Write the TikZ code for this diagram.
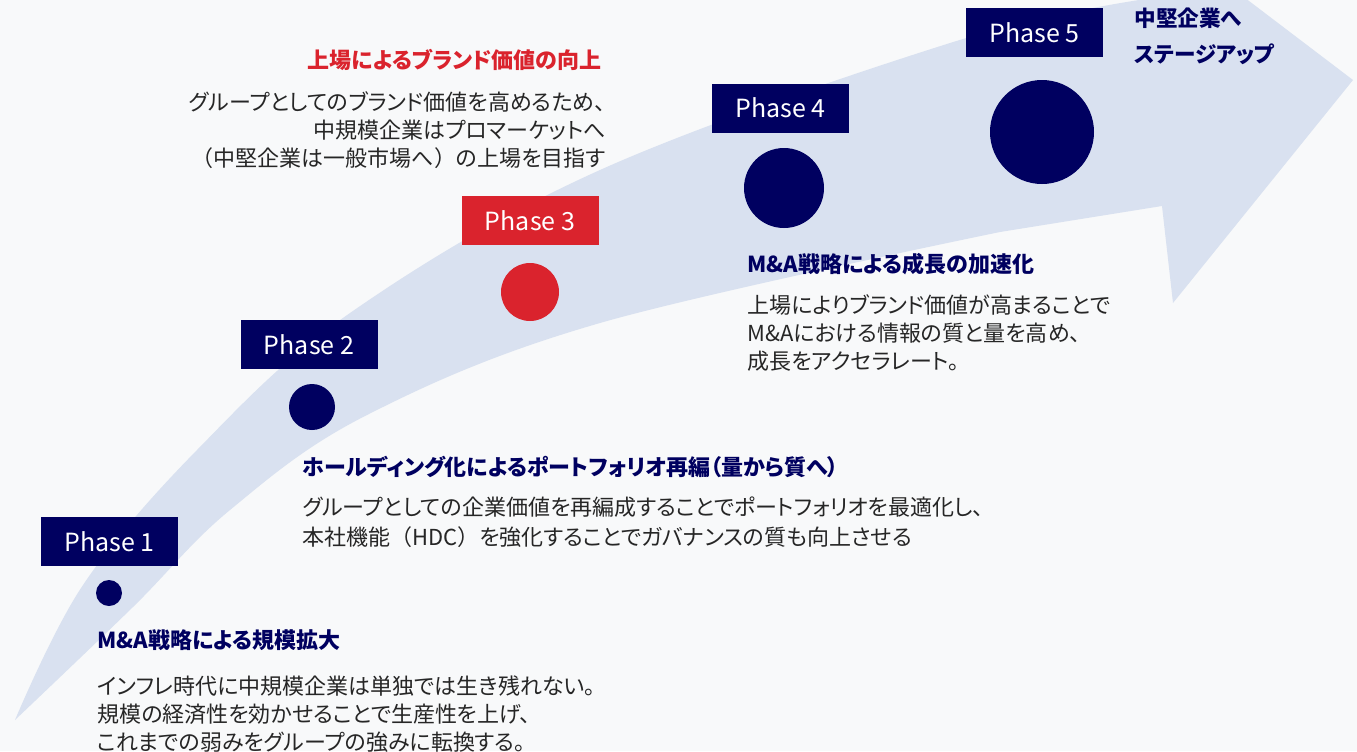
\documentclass[tikz,border=0pt]{standalone}
\usepackage{fontspec}
\setmainfont{Noto Sans CJK JP}[RawFeature=+palt]
\newfontfamily\fullwidth{Noto Sans CJK JP}
\usepackage{tikz}
\usetikzlibrary{positioning}
\definecolor{navy}{RGB}{0,0,96}
\definecolor{accent}{RGB}{218,35,45}
\definecolor{bandblue}{RGB}{217,225,240}
\definecolor{paper}{RGB}{248,249,250}
\definecolor{inkgray}{RGB}{38,38,38}
\newcommand{\lpar}{{\fullwidth （}}
\newcommand{\rpar}{{\fullwidth ）}}
\tikzset{
    phasebox/.style={
        rectangle,
        fill=navy,
        text=white,
        minimum width=68.5pt,
        minimum height=24.5pt,
        inner sep=0pt,
        font={\fontsize{12.5pt}{14pt}\selectfont}
    },
    dot/.style={circle, fill=navy, inner sep=0pt},
    phase 3/.style={fill=accent},
    heading/.style={
        inner sep=0pt,
        text=navy,
        font={\fontsize{11pt}{12pt}\selectfont\bfseries}
    },
    bodytext/.style={
        inner sep=0pt,
        text=inkgray,
        font={\fontsize{11pt}{14pt}\selectfont}
    },
}

\begin{document}
\begin{tikzpicture}[x=0.5pt, y=-0.5pt]

\useasboundingbox (0,0) rectangle (1357,751);
\fill [paper] (0,0) rectangle (1357,751);

\begin{scope}
  \clip (0,0) rectangle (1357,751);
  \fill [bandblue] plot [smooth, tension=0.6] coordinates
      {(15,720) (83,585) (197,450) (350,313) (600,170) (950,43) (1139,0)}
    -- (1128,-91) -- (1353,80) -- (1173,303) -- (1162,206)
    -- plot [smooth, tension=0.6] coordinates
      {(1000,232) (600,323) (367,415) (230,510) (133,607) (15,720)}
    -- cycle;
\end{scope}

\foreach \x/\y/\r [count=\i] in {109/593/13, 312/407/23, 530/292/29, 784/188/40, 1042/132/52}
  \node [dot, minimum size=\r*1pt, phase \i/.try] (dot-\i) at (\x,\y) {};

\foreach \x/\y [count=\i] in {109.5/541.5, 309/344.5, 530/220.5, 780.5/108, 1034.5/32.5}
  \node [phasebox, phase \i/.try] (phase-\i) at (\x,\y) {Phase \i};

\node [heading, anchor=west] (head-1) at (97,640) {M\&A戦略による規模拡大};
\node [bodytext, anchor=west, align=left] (text-1) at (97,714)
  {インフレ時代に中規模企業は単独では生き残れない。\\
   規模の経済性を効かせることで生産性を上げ、\\
   これまでの弱みをグループの強みに転換する。};

\node [heading, anchor=west] (head-2) at (302,467)
  {ホールディング化によるポートフォリオ再編（量から質へ）};
\node [bodytext, anchor=west, align=left,
       font={\fontsize{11pt}{15pt}\selectfont}] (text-2) at (302,522)
  {グループとしての企業価値を再編成することでポートフォリオを最適化し、\\
   本社機能\lpar HDC\rpar を強化することでガバナンスの質も向上させる};

\node [heading, text=accent, anchor=east] (head-3) at (602,60)
  {上場によるブランド価値の向上};
\node [bodytext, anchor=east, align=right] (text-3) at (606,130)
  {グループとしてのブランド価値を高めるため、\\
   中規模企業はプロマーケットへ\\
   \lpar 中堅企業は一般市場へ\rpar の上場を目指す};

\node [heading, anchor=west] (head-4) at (747,264) {M\&A戦略による成長の加速化};
\node [bodytext, anchor=west, align=left] (text-4) at (747,333)
  {上場によりブランド価値が高まることで\\
   M\&Aにおける情報の質と量を高め、\\
   成長をアクセラレート。};

\node [heading, anchor=west, align=left,
       font={\fontsize{10.8pt}{18pt}\selectfont\bfseries}] (head-5) at (1134,36)
  {中堅企業へ\\ステージアップ};

\end{tikzpicture}
\end{document}
